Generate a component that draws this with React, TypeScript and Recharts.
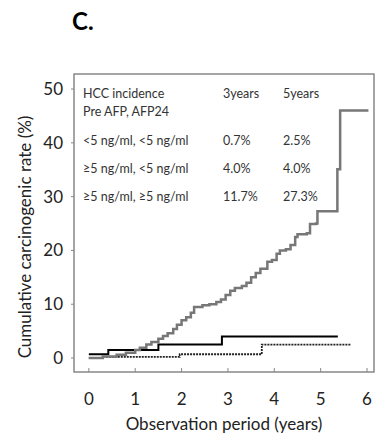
import { LineChart, Line, XAxis, YAxis, ReferenceArea, Customized } from 'recharts';

// ≥5 ng/ml, ≥5 ng/ml (thick gray)
const highHighYears = [0, 0.3, 0.6, 0.8, 1.0, 1.1, 1.24, 1.35, 1.5, 1.6, 1.7, 1.82, 1.9, 2.0, 2.1, 2.2, 2.27, 2.45, 2.6, 2.75, 2.85, 2.95, 3.05, 3.15, 3.3, 3.4, 3.5, 3.6, 3.7, 3.85, 3.95, 4.05, 4.12, 4.25, 4.35, 4.45, 4.5, 4.7, 4.77, 4.9, 4.93, 5.36, 5.42, 6.03];
const highHighRates = [0, 0.3, 0.6, 1.0, 1.5, 1.9, 2.5, 3.0, 3.6, 4.1, 4.6, 5.4, 6.2, 7.0, 7.6, 8.4, 9.5, 9.8, 10.0, 10.4, 10.9, 11.7, 12.5, 13.0, 13.4, 14.0, 15.0, 15.8, 16.6, 17.9, 18.2, 19.4, 20.0, 20.2, 21.0, 22.5, 23.0, 23.2, 24.9, 25.0, 27.3, 35.1, 46.0, 46.0];

// ≥5 ng/ml, <5 ng/ml (black solid)
const highLowYears = [0, 0.42, 1.5, 2.87, 5.37];
const highLowRates = [0.7, 1.5, 2.5, 4.0, 4.0];

// <5 ng/ml, <5 ng/ml (dotted)
const lowLowYears = [0, 0.3, 1.96, 3.73, 5.66];
const lowLowRates = [0, 0.2, 0.7, 2.5, 2.5];

const xTicks = [0, 1, 2, 3, 4, 5, 6];
const yTicks = [0, 10, 20, 30, 40, 50];

const tableHeader = ['HCC incidence', 'Pre AFP, AFP24'];
const yearColumns = ['3years', '5years'];
const groupLabels = ['<5 ng/ml, <5 ng/ml', '≥5 ng/ml, <5 ng/ml', '≥5 ng/ml, ≥5 ng/ml'];
const threeYearRates = ['0.7%', '4.0%', '11.7%'];
const fiveYearRates = ['2.5%', '4.0%', '27.3%'];

const toSeries = (years: number[], rates: number[]) =>
  years.map((t, i) => ({ t, rate: rates[i] }));

const FONT = 'Lato, "Open Sans", sans-serif';

function XTick({ x, y, payload }: any) {
  return (
    <g>
      <line x1={x} y1={y} x2={x} y2={y - 4} stroke="#888" strokeWidth={1} />
      <text x={x} y={y + 26} textAnchor="middle" dominantBaseline="central" fontSize={17} fill="#222" fontFamily={FONT}>
        {payload.value}
      </text>
    </g>
  );
}

function Annotations() {
  const rowY = [140, 168, 196];
  return (
    <g fontFamily={FONT} fill="#333" fontSize={12.5}>
      <text x={72} y={20} dominantBaseline="central" fontSize={24} fontWeight="bold" fill="#000">C.</text>
      <text x={83} y={93} dominantBaseline="central">{tableHeader[0]}</text>
      <text x={83} y={111} dominantBaseline="central">{tableHeader[1]}</text>
      <text x={223} y={93} dominantBaseline="central">{yearColumns[0]}</text>
      <text x={283} y={93} dominantBaseline="central">{yearColumns[1]}</text>
      {groupLabels.map((g, i) => (
        <g key={g}>
          <text x={83} y={rowY[i]} dominantBaseline="central">{g}</text>
          <text x={223} y={rowY[i]} dominantBaseline="central">{threeYearRates[i]}</text>
          <text x={283} y={rowY[i]} dominantBaseline="central">{fiveYearRates[i]}</text>
        </g>
      ))}
      <text
        x={24}
        y={237}
        transform="rotate(-90 24 237)"
        textAnchor="middle"
        dominantBaseline="central"
        fontSize={17}
        fill="#222"
      >
        Cumulative carcinogenic rate (%)
      </text>
      <text x={224} y={423} textAnchor="middle" dominantBaseline="central" fontSize={17} fill="#222">
        Observation period (years)
      </text>
    </g>
  );
}

export default function App() {
  return (
    <div style={{ position: 'absolute', left: 0, top: 0, background: '#fff' }}>
      <LineChart width={386} height={444} margin={{ top: 74, right: 12, bottom: 0, left: 0 }}>
        <XAxis
          type="number"
          dataKey="t"
          domain={[-0.32, 6.15]}
          ticks={xTicks}
          allowDataOverflow
          axisLine={false}
          tickLine={false}
          tickSize={0}
          tickMargin={0}
          height={72}
          tick={<XTick />}
        />
        <YAxis
          type="number"
          domain={[-2.6, 52.8]}
          ticks={yTicks}
          allowDataOverflow
          width={74}
          axisLine={false}
          tickSize={3}
          tickMargin={8}
          tickLine={{ stroke: '#888' }}
          tick={{ fontSize: 17, fill: '#222', fontFamily: FONT }}
        />
        <ReferenceArea x1={-0.32} x2={6.15} y1={-2.6} y2={52.8} fill="none" stroke="#888" strokeWidth={1.5} ifOverflow="visible" />
        <Line
          data={toSeries(lowLowYears, lowLowRates)}
          dataKey="rate"
          type="stepAfter"
          stroke="#222"
          strokeWidth={1.8}
          strokeDasharray="2 1"
          dot={false}
          isAnimationActive={false}
        />
        <Line
          data={toSeries(highLowYears, highLowRates)}
          dataKey="rate"
          type="stepAfter"
          stroke="#000"
          strokeWidth={2}
          dot={false}
          isAnimationActive={false}
        />
        <Line
          data={toSeries(highHighYears, highHighRates)}
          dataKey="rate"
          type="stepAfter"
          stroke="#777"
          strokeWidth={2.5}
          dot={false}
          isAnimationActive={false}
        />
        <Customized component={Annotations} />
      </LineChart>
    </div>
  );
}
